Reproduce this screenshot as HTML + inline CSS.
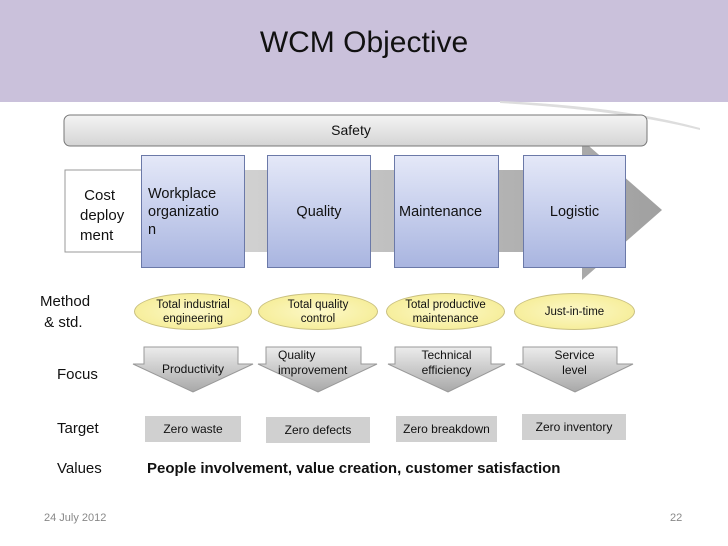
<!DOCTYPE html>
<html><head><style>
body{margin:0;width:728px;height:546px;background:#fff;position:relative;overflow:hidden;font-family:"Liberation Sans",sans-serif;color:#111}
.a{position:absolute}
.hdr{left:0;top:0;width:728px;height:102px;background:#cac1db}
.t{left:0;width:728px;text-align:center;top:26px;font-size:30px}
.bx{position:absolute;top:155px;height:113px;background:linear-gradient(#e4e8f8,#a9b5e0);border:1px solid #6b79a8;box-sizing:border-box;font-size:14px;display:flex;align-items:center}
.el{position:absolute;top:293px;height:37px;border-radius:50%;background:radial-gradient(#fcf8c8,#f4ea8a);border:1px solid #c9c080;box-sizing:border-box;font-size:11.5px;text-align:center;display:flex;align-items:center;justify-content:center;line-height:14px}
.tg{position:absolute;top:416px;height:26px;background:#d0d0d0;font-size:12px;text-align:center;line-height:26px}
.lb{position:absolute;font-size:14px}
.fl{position:absolute;top:348px;font-size:12px;text-align:center;line-height:15px}
</style></head><body>
<div class="a hdr"></div>
<div class="a t">WCM Objective</div>
<svg class="a" style="left:0;top:0" width="728" height="546">
<defs><linearGradient id="g" x1="0" x2="1"><stop offset="0" stop-color="#e6e6e6"/><stop offset="1" stop-color="#a0a0a0"/></linearGradient>
<linearGradient id="s" x1="0" y1="0" x2="0" y2="1"><stop offset="0" stop-color="#f4f4f4"/><stop offset="1" stop-color="#d4d4d4"/></linearGradient>
<linearGradient id="f" x1="0" y1="0" x2="0" y2="1"><stop offset="0" stop-color="#ececec"/><stop offset="1" stop-color="#a8a8a8"/></linearGradient></defs>
<path d="M500 103 Q620 110 700 130 L700 128 Q620 106 500 101Z" fill="#ddd"/>
<polygon points="65,170 582,170 582,140 662,210 582,280 582,252 65,252" fill="url(#g)"/>
<rect x="65" y="170" width="78" height="82" fill="#fff" stroke="#999"/>
<rect x="64" y="115" width="583" height="31" rx="6" fill="url(#s)" stroke="#777"/>
<g fill="url(#f)" stroke="#999">
<polygon points="144,347 238,347 238,364 253,364 193,392 133,364 144,364"/>
<polygon points="266,347 361,347 361,364 377,364 318,392 258,364 266,364"/>
<polygon points="395,347 491,347 491,364 505,364 448,392 388,364 395,364"/>
<polygon points="523,347 617,347 617,364 633,364 575,392 516,364 523,364"/>
</g>
</svg>
<div class="a" style="left:0;width:728px;top:122px;text-align:center;font-size:14px;margin-left:-13px">Safety</div>
<div class="lb" style="left:80px;top:186px;line-height:20px;font-size:15px">&nbsp;Cost<br>deploy<br>ment</div>
<div class="bx" style="left:141px;width:104px;padding-left:6px;line-height:18px;font-size:14.5px">Workplace<br>organizatio<br>n</div>
<div class="bx" style="left:267px;width:104px;justify-content:center;font-size:14.5px">Quality</div>
<div class="bx" style="left:394px;width:105px;padding-left:4px;font-size:14.5px">Maintenance</div>
<div class="bx" style="left:523px;width:103px;justify-content:center;font-size:14.5px">Logistic</div>
<div class="lb" style="left:40px;top:291px;line-height:21px;font-size:15px">Method<br>&nbsp;&amp; std.</div>
<div class="el" style="left:134px;width:118px">Total industrial<br>engineering</div>
<div class="el" style="left:258px;width:120px">Total quality<br>control</div>
<div class="el" style="left:386px;width:119px">Total productive<br>maintenance</div>
<div class="el" style="left:514px;width:121px">Just-in-time</div>
<div class="lb" style="left:57px;top:366px;font-size:15px">Focus</div>
<div class="fl" style="left:133px;width:120px;top:362px">Productivity</div>
<div class="fl" style="left:278px;text-align:left">Quality<br>improvement</div>
<div class="fl" style="left:388px;width:117px">Technical<br>efficiency</div>
<div class="fl" style="left:516px;width:117px">Service<br>level</div>
<div class="lb" style="left:57px;top:420px;font-size:15px">Target</div>
<div class="tg" style="left:145px;width:96px">Zero waste</div>
<div class="tg" style="left:266px;width:104px;top:417px">Zero defects</div>
<div class="tg" style="left:396px;width:101px">Zero breakdown</div>
<div class="tg" style="left:522px;width:104px;top:414px">Zero inventory</div>
<div class="lb" style="left:57px;top:460px;font-size:15px">Values</div>
<div class="lb" style="left:147px;top:460px;font-size:15px;font-weight:bold">People involvement, value creation, customer satisfaction</div>
<div class="lb" style="left:44px;top:512px;font-size:11px;color:#888">24 July 2012</div>
<div class="lb" style="left:670px;top:512px;font-size:11px;color:#888">22</div>
</body></html>
